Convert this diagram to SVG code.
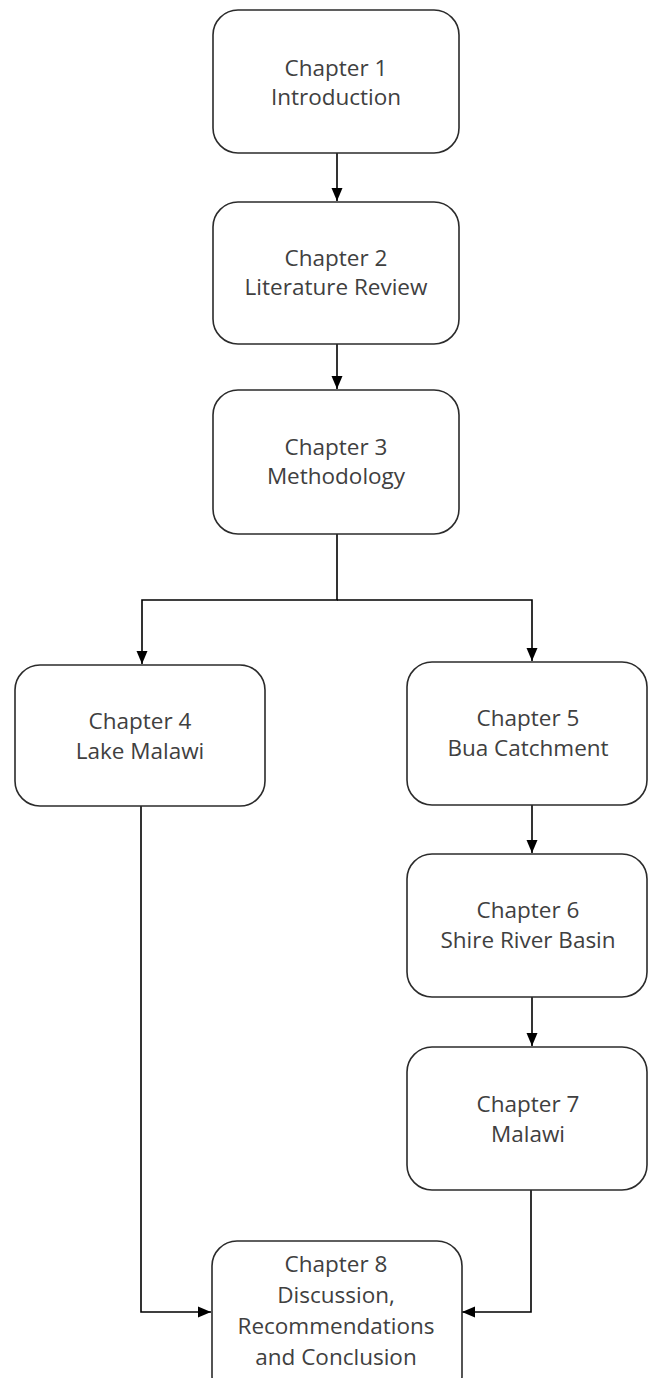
<svg xmlns="http://www.w3.org/2000/svg" width="648" height="1378" viewBox="0 0 648 1378">
<style>
.box{fill:#ffffff;stroke:#2b2b2b;stroke-width:1.6}
.lbl{font-family:"Open Sans","Liberation Sans",sans-serif;font-size:22.5px;fill:#404040;text-anchor:middle}
.con{fill:none;stroke:#000000;stroke-width:1.6}
</style>
<defs>
<marker id="arr" markerUnits="userSpaceOnUse" markerWidth="13" markerHeight="13" viewBox="0 0 13 13" refX="13" refY="6.5" orient="auto">
<path d="M0,1 L13,6.5 L0,12 Z" fill="#000000"/>
</marker>
</defs>
<rect width="648" height="1378" fill="#ffffff"/>
<g id="connectors">
<path class="con" d="M337,153 V201" marker-end="url(#arr)"/>
<path class="con" d="M337,344 V389" marker-end="url(#arr)"/>
<path class="con" d="M337,534 V600 H142 V664" marker-end="url(#arr)"/>
<path class="con" d="M337,600 H532 V661" marker-end="url(#arr)"/>
<path class="con" d="M532,805 V853" marker-end="url(#arr)"/>
<path class="con" d="M532,997 V1046" marker-end="url(#arr)"/>
<path class="con" d="M141,806 V1312 H211" marker-end="url(#arr)"/>
<path class="con" d="M531,1190 V1312 H462" marker-end="url(#arr)"/>
</g>
<g id="ch1">
<rect class="box" x="213" y="10" width="246" height="143" rx="25"/>
<text class="lbl" x="336" y="76">Chapter 1</text>
<text class="lbl" x="336" y="105">Introduction</text>
</g>
<g id="ch2">
<rect class="box" x="213" y="202" width="246" height="142" rx="25"/>
<text class="lbl" x="336" y="266">Chapter 2</text>
<text class="lbl" x="336" y="295">Literature Review</text>
</g>
<g id="ch3">
<rect class="box" x="213" y="390" width="246" height="144" rx="25"/>
<text class="lbl" x="336" y="455">Chapter 3</text>
<text class="lbl" x="336" y="484">Methodology</text>
</g>
<g id="ch4">
<rect class="box" x="15" y="665" width="250" height="141" rx="25"/>
<text class="lbl" x="140" y="729">Chapter 4</text>
<text class="lbl" x="140" y="759">Lake Malawi</text>
</g>
<g id="ch5">
<rect class="box" x="407" y="662" width="240" height="143" rx="25"/>
<text class="lbl" x="528" y="726">Chapter 5</text>
<text class="lbl" x="528" y="756">Bua Catchment</text>
</g>
<g id="ch6">
<rect class="box" x="407" y="854" width="240" height="143" rx="25"/>
<text class="lbl" x="528" y="918">Chapter 6</text>
<text class="lbl" x="528" y="948">Shire River Basin</text>
</g>
<g id="ch7">
<rect class="box" x="407" y="1047" width="240" height="143" rx="25"/>
<text class="lbl" x="528" y="1112">Chapter 7</text>
<text class="lbl" x="528" y="1142">Malawi</text>
</g>
<g id="ch8">
<rect class="box" x="212" y="1241" width="250" height="160" rx="25"/>
<text class="lbl" x="336" y="1272">Chapter 8</text>
<text class="lbl" x="336" y="1303">Discussion,</text>
<text class="lbl" x="336" y="1334">Recommendations</text>
<text class="lbl" x="336" y="1365">and Conclusion</text>
</g>
</svg>
